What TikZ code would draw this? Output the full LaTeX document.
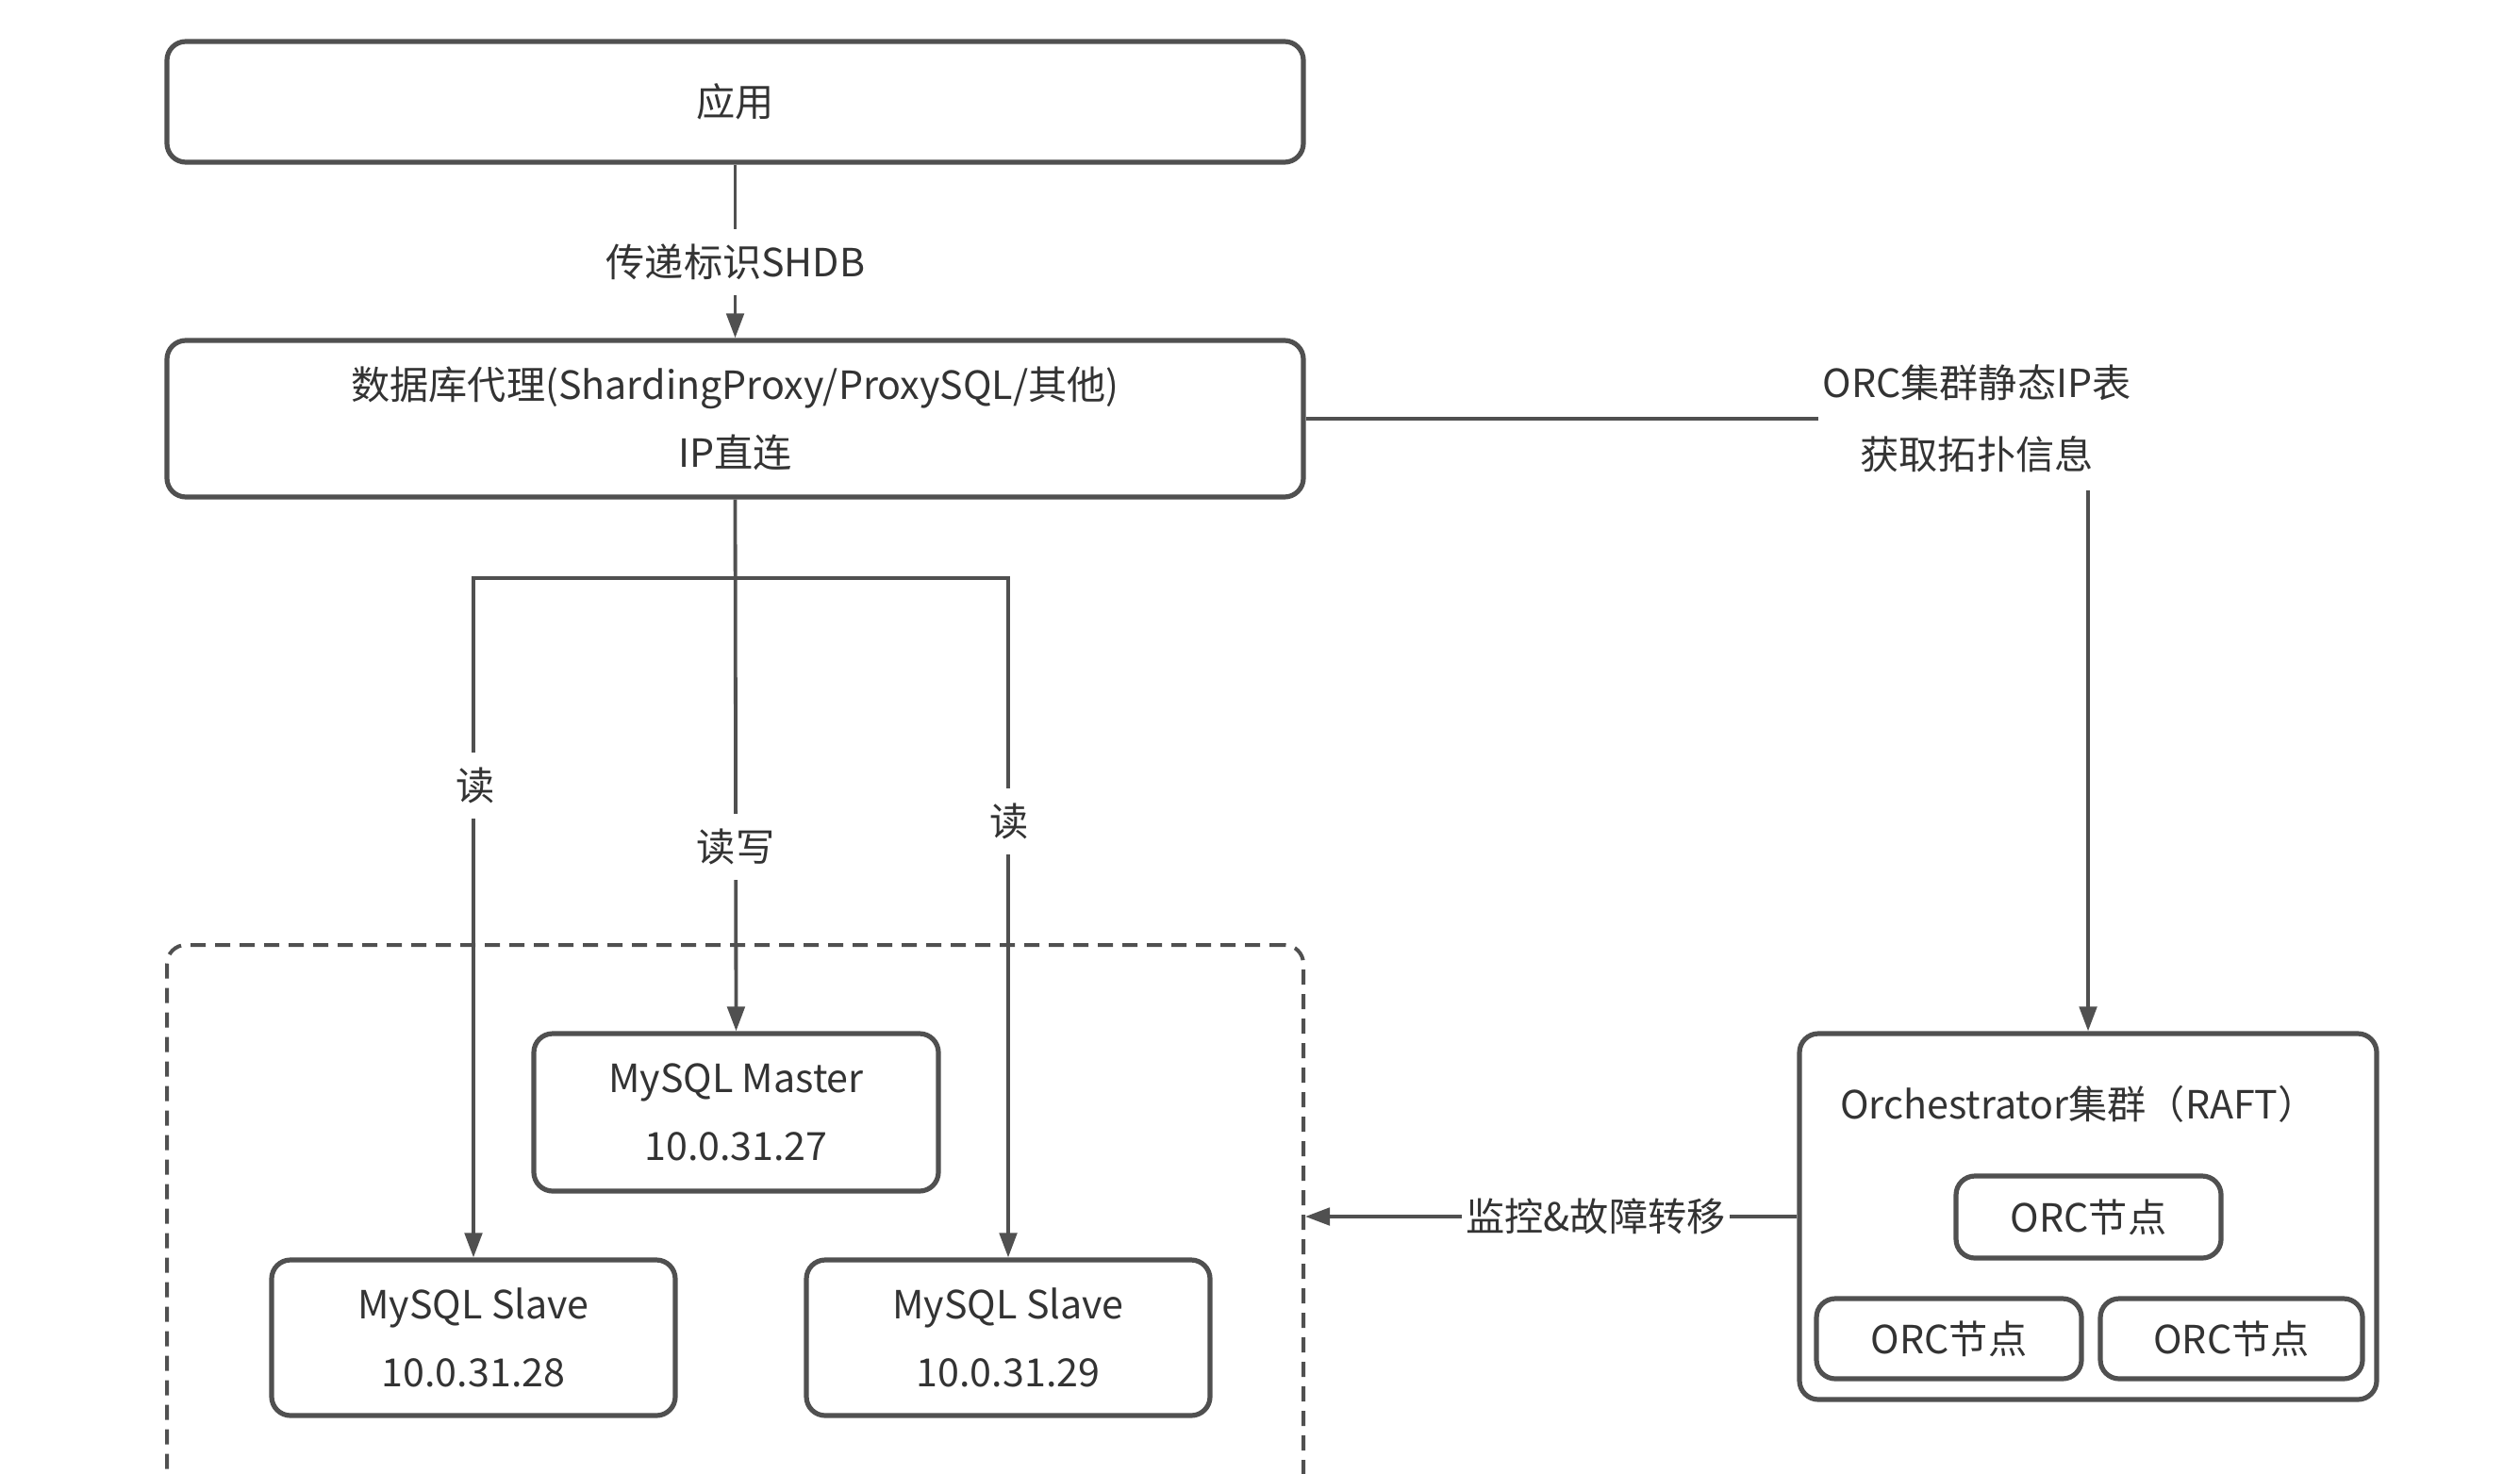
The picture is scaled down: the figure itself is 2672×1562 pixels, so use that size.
\documentclass[tikz,border=0pt]{standalone}
\usepackage{fontspec}
\setmainfont{Noto Sans CJK SC}
\usetikzlibrary{arrows.meta}
\definecolor{ln}{HTML}{505050}
\definecolor{tx}{HTML}{333333}
\begin{document}
\begin{tikzpicture}[x=0.25pt,y=-0.25pt,
  every node/.style={font=\fontsize{10.3}{18}\selectfont, text=tx},
  box/.style={draw=ln, line width=1.3pt, rounded corners=5pt, align=center, inner sep=0pt, fill=white},
  grpbox/.style={draw=ln, line width=1pt, rounded corners=5pt, dash pattern=on 4pt off 2.5pt, inner sep=0pt},
  conn/.style={draw=ln, line width=0.95pt},
  arr/.style={conn, -{Triangle[length=6.5pt,width=4.6pt]}},
  lab/.style={fill=white, inner xsep=2pt, inner ysep=4pt}
]
\useasboundingbox (0,0) rectangle (2672,1562);
\begin{scope}
\clip (0,0) rectangle (2672,1562);
\node[grpbox, minimum width=301.25pt, minimum height=174.5pt] (grp) at (779.5,1351) {};
\end{scope}

\node[box, minimum width=301.25pt, minimum height=32pt] (app) at (779.5,108) {应用};
\node[box, minimum width=301.25pt, minimum height=41.5pt] (proxy) at (779.5,444) {数据库代理(ShardingProxy/ProxySQL/其他)\\IP直连};
\node[box, minimum width=107.25pt, minimum height=41.75pt] (master) at (780.5,1179.5) {MySQL Master\\10.0.31.27};
\node[box, minimum width=107pt, minimum height=41.25pt] (slaveL) at (502,1418.5) {MySQL Slave\\10.0.31.28};
\node[box, minimum width=107pt, minimum height=41.25pt] (slaveR) at (1069,1418.5) {MySQL Slave\\10.0.31.29};

\node[box, minimum width=153pt, minimum height=97pt] (orc) at (2214,1290) {};
\node (orctitle) at (2204,1171) {Orchestrator集群（RAFT）};
\node[box, minimum width=70.25pt, minimum height=21.75pt] (n1) at (2214.5,1290.5) {ORC节点};
\node[box, minimum width=70.25pt, minimum height=21.25pt] (n2) at (2066.5,1419.5) {ORC节点};
\node[box, minimum width=69.5pt, minimum height=21.25pt] (n3) at (2366,1419.5) {ORC节点};

% app -> proxy
\draw[arr] (app.south) -- (proxy.north);
\node[lab] (l1) at (780,278) {传递标识SHDB};

% proxy -> db
\coordinate (j) at (780,613);
\draw[arr] (proxy.south) -- (master.north);
\draw[arr] (j) -| (slaveL.north);
\draw[arr] (j) -| (slaveR.north);
\node[lab] (l2) at (504,833) {读};
\node[lab] (l3) at (780,898) {读写};
\node[lab] (l4) at (1070,871) {读};

% proxy -> orc
\node[align=center, inner sep=1pt, font=\fontsize{10.3}{19}\selectfont] (l5) at (2096,444) {ORC集群静态IP表\\获取拓扑信息};
\draw[conn] (proxy.east |- l5.west) -- (l5.west);
\coordinate (c1) at (2214,520);
\draw[arr] (c1) -- (orc.north);

% orc -> grp
\draw[arr] (orc.west) -- (orc.west -| grp.east);
\node[fill=white, inner xsep=1pt, inner ysep=3pt] (l6) at (1692,1290) {监控\&故障转移};
\end{tikzpicture}
\end{document}
